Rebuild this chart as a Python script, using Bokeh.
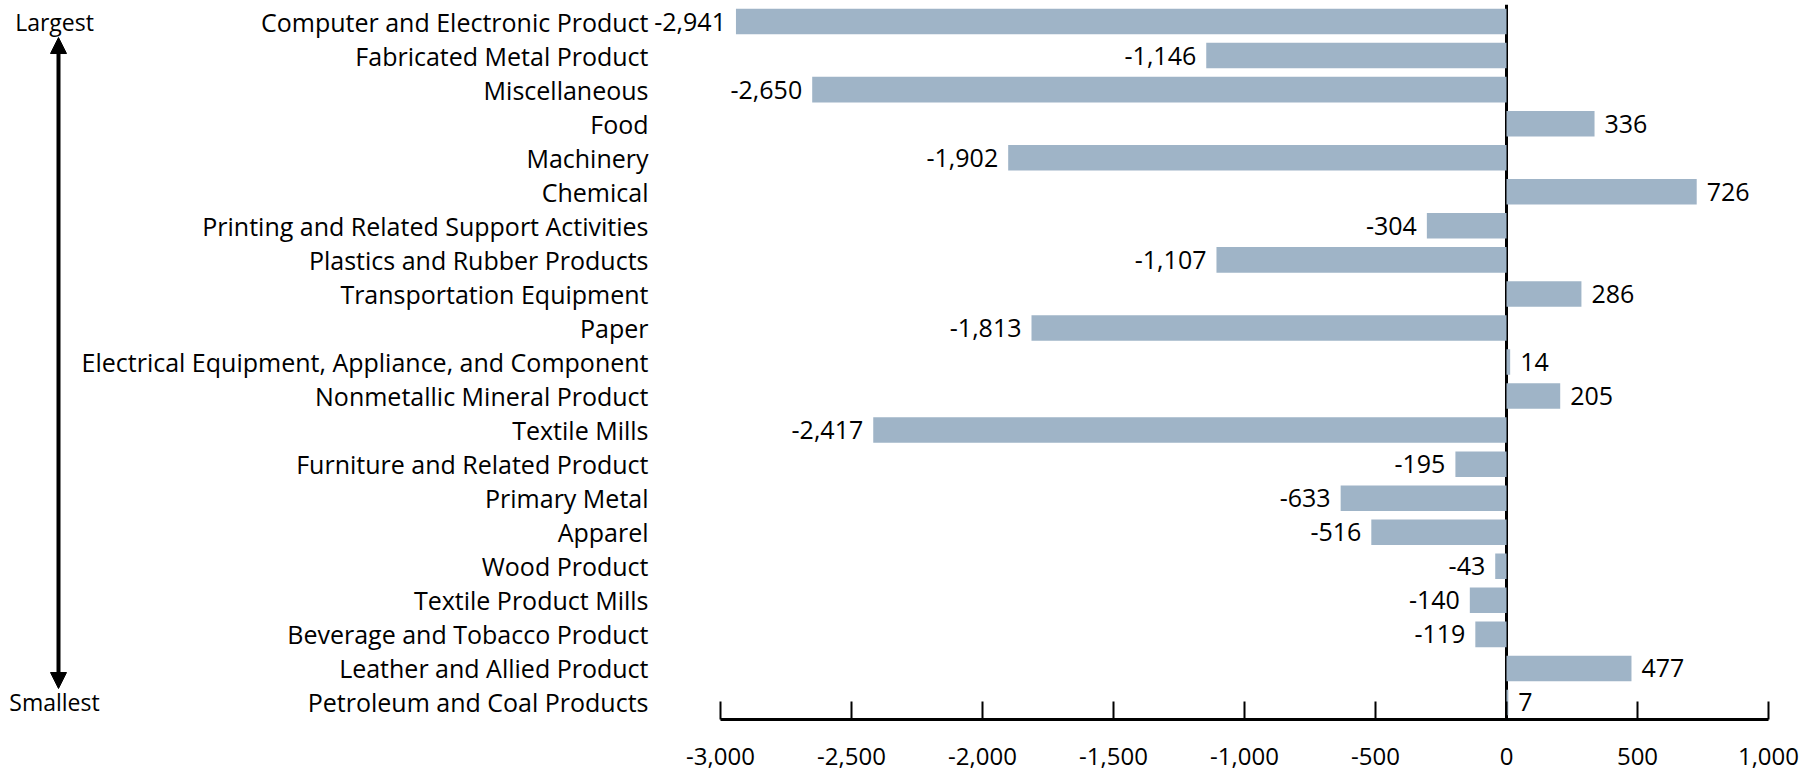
from bokeh.plotting import figure
from bokeh.models import (ColumnDataSource, FactorRange, Range1d, FixedTicker,
                          NumeralTickFormatter, Span, Arrow, NormalHead)
from bokeh.core.properties import value
from bokeh.embed import file_html
from bokeh.resources import INLINE

categories = [
    "Computer and Electronic Product", "Fabricated Metal Product", "Miscellaneous",
    "Food", "Machinery", "Chemical", "Printing and Related Support Activities",
    "Plastics and Rubber Products", "Transportation Equipment", "Paper",
    "Electrical Equipment, Appliance, and Component", "Nonmetallic Mineral Product",
    "Textile Mills", "Furniture and Related Product", "Primary Metal", "Apparel",
    "Wood Product", "Textile Product Mills", "Beverage and Tobacco Product",
    "Leather and Allied Product", "Petroleum and Coal Products",
]
values = [-2941, -1146, -2650, 336, -1902, 726, -304, -1107, 286, -1813,
          14, 205, -2417, -195, -633, -516, -43, -140, -119, 477, 7]
x_ticks = [-3000, -2500, -2000, -1500, -1000, -500, 0, 500, 1000]
scale_labels = ["Largest", "Smallest"]

FONT = "Open Sans"
FS = "25px"
FS_TICK = "24px"
FS_SIDE = "23px"
BAR = "#9fb4c7"

W, H = 1816, 773
AXIS_L = 720        # page px where the value axis starts
FRAME_R = 1768      # page px where it ends
LABEL_R = 648       # right edge of category labels (page px)
px_per_unit = (FRAME_R - AXIS_L) / (x_ticks[-1] - x_ticks[0])
x_start = x_ticks[0] - AXIS_L / px_per_unit


def px(x):
    """page pixel (from left) -> data x"""
    return x_start + x / px_per_unit


labels = [f"{v:,}" for v in values]
neg = ColumnDataSource(dict(y=[c for c, v in zip(categories, values) if v < 0],
                            x=[v for v in values if v < 0],
                            t=[l for l, v in zip(labels, values) if v < 0]))
pos = ColumnDataSource(dict(y=[c for c, v in zip(categories, values) if v >= 0],
                            x=[v for v in values if v >= 0],
                            t=[l for l, v in zip(labels, values) if v >= 0]))
bars = ColumnDataSource(dict(y=categories, right=values))
cats = ColumnDataSource(dict(y=categories, x=[px(LABEL_R)] * len(categories), t=categories))
side = ColumnDataSource(dict(y=[categories[0], categories[-1]], x=[px(54), px(54)],
                             t=scale_labels))

p = figure(width=W, height=H, output_backend="svg", toolbar_location=None,
           x_range=Range1d(x_start, x_ticks[-1]),
           y_range=FactorRange(factors=list(reversed(categories)), range_padding=0),
           min_border_left=0, min_border_right=W - FRAME_R,
           min_border_top=4, min_border_bottom=54)
p.outline_line_color = None
p.xgrid.visible = False
p.ygrid.visible = False
p.yaxis.visible = False
p.background_fill_color = "white"

zero = Span(location=0, dimension="height", line_color="black", line_width=3, level="underlay")
p.add_layout(zero)

p.hbar(y="y", left=0, right="right", height=0.75, source=bars,
       fill_color=BAR, line_color=None)

p.text(x="x", y="y", text="t", source=neg, x_offset=-10, text_align="right",
       text_baseline="middle", text_font=value(FONT), text_font_size=value(FS),
       text_color="black")
p.text(x="x", y="y", text="t", source=pos, x_offset=10, text_align="left",
       text_baseline="middle", text_font=value(FONT), text_font_size=value(FS),
       text_color="black")
p.text(x="x", y="y", text="t", source=cats, text_align="right",
       text_baseline="middle", text_font=value(FONT), text_font_size=value(FS),
       text_color="black")
p.text(x="x", y="y", text="t", source=side, text_align="center",
       text_baseline="middle", text_font=value(FONT), text_font_size=value(FS_SIDE),
       text_color="black")

n = len(categories)
p.add_layout(Arrow(x_start=px(58), y_start=n - 0.97, x_end=px(58), y_end=0.91,
                   line_width=4, line_color="black",
                   start=NormalHead(size=16, fill_color="black", line_color="black"),
                   end=NormalHead(size=16, fill_color="black", line_color="black")))

xa = p.xaxis[0]
xa.ticker = FixedTicker(ticks=x_ticks)
xa.bounds = (x_ticks[0], x_ticks[-1])
xa.formatter = NumeralTickFormatter(format="0,0")
xa.axis_line_width = 3
xa.axis_line_color = "black"
xa.major_tick_in = 18
xa.major_tick_out = 0
xa.major_tick_line_width = 2
xa.major_tick_line_color = "black"
xa.minor_tick_line_color = None
xa.major_label_standoff = 28
xa.major_label_text_font = FONT
xa.major_label_text_font_size = FS_TICK
xa.major_label_text_color = "black"

open("out.html", "w").write(file_html(p, INLINE))
